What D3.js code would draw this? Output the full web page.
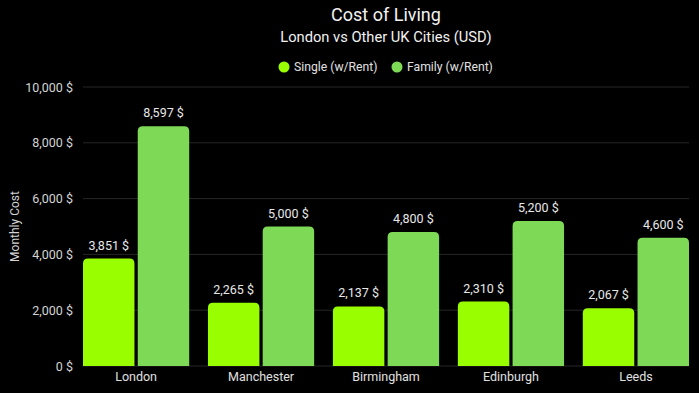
<!DOCTYPE html>
<html>
<head>
<meta charset="utf-8">
<script src="https://cdn.jsdelivr.net/npm/d3@7"></script>
<style>
  body { margin: 0; background: #000; }
  svg { display: block; font-family: Roboto, "Open Sans", sans-serif; }
</style>
</head>
<body>
<svg id="svg1" width="699" height="393"></svg>
<script>
var cities = ['London', 'Manchester', 'Birmingham', 'Edinburgh', 'Leeds'];
var seriesNames = ['Single (w/Rent)', 'Family (w/Rent)'];
var single = [3851, 2265, 2137, 2310, 2067];
var family = [8597, 5000, 4800, 5200, 4600];
var yTicks = [0, 2000, 4000, 6000, 8000, 10000];
var colors = ['#99ff00', '#7ed957'];

var width = 699, height = 393;
var margin = {left: 83, right: 10, top: 87, bottom: 27};

var svg = d3.select('#svg1');

var x = d3.scaleBand()
    .domain(cities)
    .range([margin.left, width - margin.right])
    .paddingInner(0.15)
    .paddingOuter(0);

var xs = d3.scaleBand()
    .domain([0, 1])
    .range([0, x.bandwidth()])
    .paddingInner(0.06);

var y = d3.scaleLinear()
    .domain([0, 10000])
    .range([height - margin.bottom, margin.top]);

var fmt = d3.format(',');

// grid
svg.append('g')
    .selectAll('line')
    .data(yTicks)
    .enter().append('line')
    .attr('x1', margin.left)
    .attr('x2', width - margin.right)
    .attr('y1', function(d) { return y(d); })
    .attr('y2', function(d) { return y(d); })
    .attr('stroke', '#262626')
    .attr('stroke-width', 1);

// y axis
var yAxis = svg.append('g')
    .attr('transform', 'translate(' + (margin.left - 7) + ',0)')
    .call(d3.axisLeft(y).tickValues(yTicks).tickSize(0).tickFormat(function(d) { return fmt(d) + ' $'; }));
yAxis.select('.domain').remove();
yAxis.selectAll('text')
    .attr('fill', '#d4d4d4')
    .attr('font-size', 12.5)
    .attr('font-family', 'Roboto, sans-serif');

svg.append('text')
    .attr('transform', 'translate(19,' + y(5000) + ') rotate(-90)')
    .attr('text-anchor', 'middle')
    .attr('fill', '#d4d4d4')
    .attr('font-size', 12)
    .text('Monthly Cost');

// x axis
var xAxis = svg.append('g')
    .attr('transform', 'translate(0,' + (height - margin.bottom) + ')')
    .call(d3.axisBottom(x).tickSize(0).tickPadding(6));
xAxis.select('.domain').remove();
xAxis.selectAll('text')
    .attr('fill', '#e0e0e0')
    .attr('font-size', 12.5)
    .attr('font-family', 'Roboto, sans-serif');

// bars
var data = [];
cities.forEach(function(c, i) {
    data.push({city: c, s: 0, v: single[i]});
    data.push({city: c, s: 1, v: family[i]});
});

function barPath(d) {
    var x0 = x(d.city) + xs(d.s), w = xs.bandwidth();
    var y0 = y(d.v), y1 = y(0), r = 5;
    return 'M' + x0 + ',' + y1 +
        'V' + (y0 + r) +
        'Q' + x0 + ',' + y0 + ' ' + (x0 + r) + ',' + y0 +
        'H' + (x0 + w - r) +
        'Q' + (x0 + w) + ',' + y0 + ' ' + (x0 + w) + ',' + (y0 + r) +
        'V' + y1 + 'Z';
}

svg.append('g')
    .selectAll('path')
    .data(data)
    .enter().append('path')
    .attr('d', barPath)
    .attr('fill', function(d) { return colors[d.s]; });

svg.append('g')
    .selectAll('text')
    .data(data)
    .enter().append('text')
    .attr('x', function(d) { return x(d.city) + xs(d.s) + xs.bandwidth() / 2; })
    .attr('y', function(d) { return y(d.v) - 9; })
    .attr('text-anchor', 'middle')
    .attr('fill', '#e8e8e8')
    .attr('font-size', 12.5)
    .text(function(d) { return fmt(d.v) + ' $'; });

// title
var cx = (margin.left + width - margin.right) / 2;
svg.append('text')
    .attr('x', cx).attr('y', 21)
    .attr('text-anchor', 'middle')
    .attr('fill', '#f2f2f2')
    .attr('font-size', 18)
    .text('Cost of Living');
svg.append('text')
    .attr('x', cx).attr('y', 42)
    .attr('text-anchor', 'middle')
    .attr('fill', '#f2f2f2')
    .attr('font-size', 14.7)
    .text('London vs Other UK Cities (USD)');

// legend
var legendX = [284, 397];
var legend = svg.append('g')
    .selectAll('g')
    .data(seriesNames)
    .enter().append('g')
    .attr('transform', function(d, i) { return 'translate(' + legendX[i] + ',67)'; });
legend.append('circle')
    .attr('r', 5.5)
    .attr('fill', function(d, i) { return colors[i]; });
legend.append('text')
    .attr('x', 10)
    .attr('dy', '0.35em')
    .attr('fill', '#e0e0e0')
    .attr('font-size', 12.2)
    .text(function(d) { return d; });
</script>
</body>
</html>
